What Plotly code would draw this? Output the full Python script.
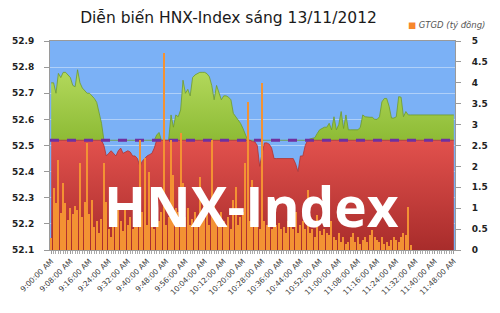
import plotly.graph_objects as go

# ---------------- data ----------------
tick_labels = ["9:00:00 AM", "9:08:00 AM", "9:16:00 AM", "9:24:00 AM", "9:32:00 AM",
               "9:40:00 AM", "9:48:00 AM", "9:56:00 AM", "10:04:00 AM", "10:12:00 AM",
               "10:20:00 AM", "10:28:00 AM", "10:36:00 AM", "10:44:00 AM", "10:52:00 AM",
               "11:00:00 AM", "11:08:00 AM", "11:16:00 AM", "11:24:00 AM", "11:32:00 AM",
               "11:40:00 AM", "11:48:00 AM"]

# HNX-Index, one value per minute from 9:00 to 11:48
hnx_index = [
    52.74, 52.74, 52.70, 52.776, 52.76, 52.78, 52.78, 52.77, 52.76, 52.73,
    52.725, 52.79, 52.74, 52.72, 52.71, 52.70, 52.70, 52.69, 52.68, 52.665,
    52.62, 52.585, 52.50, 52.46, 52.47, 52.48, 52.47, 52.46, 52.48, 52.49,
    52.47, 52.475, 52.48, 52.475, 52.46, 52.46, 52.45, 52.42, 52.44, 52.45,
    52.46, 52.465, 52.47, 52.49, 52.54, 52.55, 52.52, 52.52, 52.52, 52.52,
    52.617, 52.57, 52.617, 52.61, 52.636, 52.75, 52.70, 52.715, 52.69, 52.76,
    52.77, 52.775, 52.78, 52.78, 52.78, 52.775, 52.763, 52.73, 52.675, 52.73,
    52.70, 52.675, 52.69, 52.69, 52.685, 52.675, 52.623, 52.61, 52.595, 52.585,
    52.566, 52.545, 52.52, 52.52, 52.515, 52.514, 52.50, 52.42, 52.47, 52.51,
    52.51, 52.505, 52.49, 52.45, 52.45, 52.45, 52.45, 52.45, 52.45, 52.45,
    52.45, 52.45, 52.43, 52.40, 52.46, 52.46, 52.50, 52.52, 52.525, 52.527,
    52.53, 52.546, 52.56, 52.565, 52.57, 52.57, 52.585, 52.56, 52.61, 52.56,
    52.58, 52.63, 52.565, 52.617, 52.56, 52.56, 52.56, 52.56, 52.56, 52.57,
    52.617, 52.61, 52.608, 52.608, 52.608, 52.60, 52.60, 52.61, 52.667, 52.68,
    52.68, 52.65, 52.605, 52.605, 52.61, 52.687, 52.685, 52.61, 52.63, 52.617,
    52.617, 52.617, 52.617, 52.617, 52.617, 52.617, 52.617, 52.617, 52.617, 52.617,
    52.617, 52.617, 52.617, 52.617, 52.617, 52.617, 52.617, 52.617, 52.617,
]

# GTGD (ty dong), one value per minute from 9:00 to 11:30
gtgd = [
    0.28, 1.48, 1.12, 2.15, 0.88, 1.6, 1.12, 0.72, 1.0, 0.85,
    1.05, 0.95, 2.07, 0.8, 1.16, 2.55, 0.85, 1.2, 0.55, 0.7,
    0.4, 0.75, 2.07, 1.16, 0.5, 0.3, 0.9, 0.6, 1.1, 0.7,
    0.45, 0.95, 0.6, 0.8, 0.5, 0.9, 0.7, 2.62, 0.9, 2.2,
    0.6, 1.87, 0.8, 0.5, 1.0, 0.7, 0.9, 4.72, 0.6, 0.8,
    2.63, 1.8, 1.0, 0.9, 2.79, 1.6, 0.8, 1.0, 0.6, 0.75,
    0.9, 0.7, 1.75, 0.8, 1.1, 0.9, 0.6, 2.63, 1.2, 0.8,
    0.55, 0.9, 0.7, 0.6, 0.8, 0.5, 1.2, 1.5, 0.6, 0.8,
    0.9, 2.07, 3.53, 0.7, 1.67, 0.6, 0.8, 0.5, 3.99, 0.7,
    0.6, 0.9, 0.5, 0.7, 0.6, 0.65, 0.5, 0.55, 0.4, 0.7,
    0.8, 0.5, 0.9, 0.4, 0.6, 0.7, 0.5, 1.43, 0.4, 0.5,
    0.3, 0.84, 0.45, 0.35, 0.5, 0.4, 0.35, 0.7, 0.3, 0.25,
    0.4, 0.2, 0.3, 0.15, 0.2, 0.3, 0.4, 0.2, 0.3, 0.15,
    0.25, 0.3, 0.2, 0.35, 0.48, 0.3, 0.25, 0.2, 0.3, 0.15,
    0.2, 0.1, 0.25, 0.3, 0.25, 0.2, 0.3, 0.4, 0.35, 1.04,
    0.12,
]

reference = 52.52
left_ticks = [52.1, 52.2, 52.3, 52.4, 52.5, 52.6, 52.7, 52.8, 52.9]
right_ticks = [0, 0.5, 1, 1.5, 2, 2.5, 3, 3.5, 4, 4.5, 5]

# ---------------- figure ----------------
n = len(hnx_index)
xs = list(range(n))
ref_line = [reference] * n
upper = [max(v, reference) for v in hnx_index]
lower = [min(v, reference) for v in hnx_index]

fig = go.Figure()

# green: between reference and index (above reference)
fig.add_trace(go.Scatter(x=xs, y=ref_line, mode="lines", line=dict(width=0),
                         hoverinfo="skip", showlegend=False))
fig.add_trace(go.Scatter(x=xs, y=upper, mode="lines", fill="tonexty",
                         line=dict(width=0.8, color="#6E9A2A"),
                         fillgradient=dict(type="vertical",
                                           colorscale=[[0, "#8DBB35"], [1, "#B5DA5E"]],
                                           start=52.52, stop=52.8),
                         showlegend=False))
# red: from bottom up to min(index, reference)
fig.add_trace(go.Scatter(x=xs, y=lower, mode="lines", fill="tozeroy",
                         line=dict(width=0.8, color="#B03230"),
                         fillgradient=dict(type="vertical",
                                           colorscale=[[0, "#A82C2B"], [1, "#E2514D"]],
                                           start=52.1, stop=52.52),
                         showlegend=False))
# dashed reference line
fig.add_trace(go.Scatter(x=[-0.5, n - 0.5], y=[reference, reference], mode="lines",
                         line=dict(color="#7030A0", width=3, dash="9px,8px"),
                         showlegend=False))
# bars on secondary axis
fig.add_trace(go.Bar(x=list(range(len(gtgd))), y=gtgd, yaxis="y2", width=0.5,
                     marker=dict(color="#F39233", line=dict(width=0)),
                     showlegend=False))

fig.update_layout(
    width=500, height=313,
    margin=dict(l=41, r=36, t=41, b=63),
    paper_bgcolor="white",
    plot_bgcolor="#7BB1F6",
    bargap=0,
    title=dict(text="Diễn biến HNX-Index sáng 13/11/2012", x=0.457, xanchor="center",
               y=0.943, yanchor="middle",
               font=dict(family="DejaVu Sans", size=15.5, color="#1a1a1a")),
    xaxis=dict(range=[-0.5, n - 0.5], tickmode="array",
               tickvals=[i * 8 for i in range(len(tick_labels))], ticktext=tick_labels,
               tickangle=-45, tickfont=dict(family="DejaVu Sans", size=7.5, color="#3a3a3a"),
               ticks="outside", ticklen=3, tickcolor="#999",
               minor=dict(dtick=1, tick0=0, ticks="outside", ticklen=3, tickcolor="#aaa"),
               showgrid=False, zeroline=False, showline=True, linecolor="#9a9a9a",
               mirror=True),
    yaxis=dict(range=[52.1, 52.9], tickvals=left_ticks,
               ticktext=[f"{v:.1f}" for v in left_ticks],
               tickfont=dict(family="DejaVu Sans", size=9, color="#222", weight="bold"),
               ticks="outside", ticklen=5, tickcolor="#999", ticklabelstandoff=8,
               showgrid=True, gridcolor="rgba(255,255,255,0.4)", gridwidth=1,
               zeroline=False, showline=True, linecolor="#9a9a9a"),
    yaxis2=dict(range=[0, 5], tickvals=right_ticks,
                ticktext=[f"{v:g}" for v in right_ticks],
                overlaying="y", side="right",
                tickfont=dict(family="DejaVu Sans", size=9, color="#222", weight="bold"),
                ticks="outside", ticklen=5, tickcolor="#999", ticklabelstandoff=9,
                showgrid=False, zeroline=False, showline=True, linecolor="#9a9a9a"),
)

# legend-like label
fig.add_annotation(xref="paper", yref="paper", x=1.08, y=1.075, xanchor="right",
                   yanchor="middle", showarrow=False,
                   text="<span style='color:#F7862A'>■</span> <i>GTGD (tỷ đồng)</i>",
                   font=dict(family="DejaVu Sans", size=8.5, color="#555"))

# watermark
fig.add_annotation(xref="paper", yref="paper", x=0.497, y=0.215, xanchor="center",
                   yanchor="middle", showarrow=False, text="<b>HNX-Index</b>",
                   font=dict(family="Open Sans", size=55, color="white"))

fig.write_html("out.html")
